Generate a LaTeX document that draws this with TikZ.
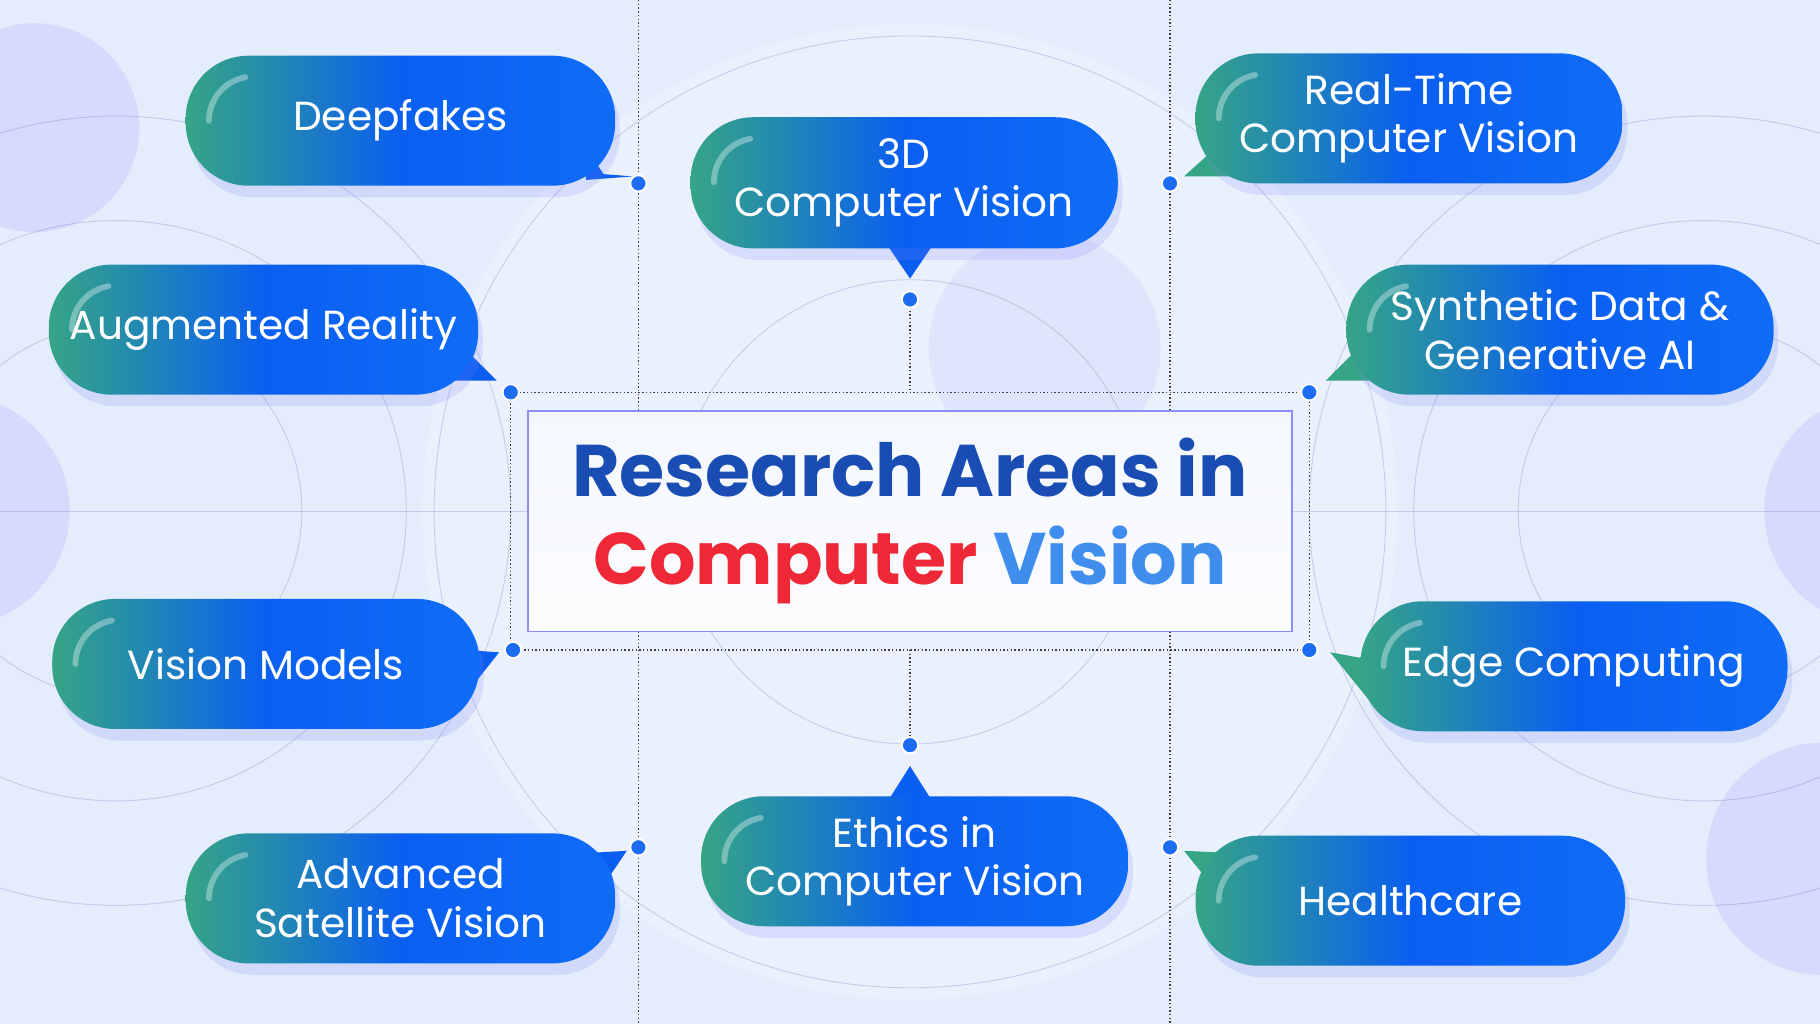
\documentclass[tikz,border=0pt]{standalone}
\usepackage{fontspec}
\setmainfont{Poppins}
\usetikzlibrary{calc}
\definecolor{bg}{HTML}{E4EDFB}
\definecolor{tealc}{HTML}{35A585}
\definecolor{bluec}{HTML}{0A5FF0}
\definecolor{bluer}{HTML}{0F6CF8}
\definecolor{dotc}{HTML}{1C6DF2}
\definecolor{titleb}{HTML}{1A4DB3}
\definecolor{titler}{HTML}{EE2836}
\definecolor{titlel}{HTML}{3F8EEE}
\tikzset{
 bub/.style={rounded corners=27pt, left color=tealc, right color=bluer, middle color=bluec, text=white, align=center, font=\fontsize{17.5}{21}\selectfont, inner sep=0pt},
 hl/.style={white, opacity=.35, line width=2.5pt, line cap=round},
 guide/.style={black!75, densely dotted, line width=.6pt},
 dotm/.style={circle, fill=dotc, draw=white, line width=.8pt, minimum size=7pt, inner sep=0pt},
 ring/.style={draw=blue!40!gray, opacity=.22, line width=.4pt},
}
\newcommand{\mybub}[6]{%
 \fill[blue!50, opacity=.18, rounded corners=27pt] ({#2+4},{#3+8}) rectangle ({#4+4},{#5+10});
 \node[bub, minimum width={(#4-#2)*0.5pt}, minimum height={(#5-#3)*0.5pt}] (#1) at ({(#2+#4)/2},{(#3+#5)/2}) {#6};
 \draw[hl] ({#2+20},{#3+56}) arc[start angle=180, end angle=100, radius=19pt];
}
\begin{document}
\begin{tikzpicture}[x=0.5pt,y=-0.5pt]
\fill[bg] (0,0) rectangle (1568,882);
\useasboundingbox (0,0) rectangle (1568,882);
\begin{scope}
\clip (0,0) rectangle (1568,882);
\fill[white,opacity=.25] (784,441) circle[radius=210pt];
\fill[blue!30,opacity=.3] (30,110) circle[radius=45pt];
\fill[blue!30,opacity=.3] (-40,440) circle[radius=50pt];
\fill[blue!30,opacity=.3] (1620,440) circle[radius=50pt];
\fill[blue!30,opacity=.3] (1570,740) circle[radius=50pt];
\fill[blue!20,opacity=.3] (900,300) circle[radius=50pt];
\foreach \r in {80,125,170} \draw[ring] (100,440) circle[radius=\r pt];
\foreach \r in {80,125,170} \draw[ring] (1468,440) circle[radius=\r pt];
\draw[ring] (784,441) circle[radius=100pt];
\draw[ring] (784,441) circle[radius=205pt];
\draw[ring] (0,441) -- (1568,441);
\end{scope}
% guides
\draw[guide] (550,0) -- (550,882);
\draw[guide] (1008,0) -- (1008,882);
\draw[guide] (440,338) rectangle (1128,560);
\draw[guide] (784,258) -- (784,338);
\draw[guide] (784,560) -- (784,642);
% center
\node[draw=blue!45, line width=.6pt, top color=white!60!bg, bottom color=white!85!bg, minimum width=329pt, minimum height=95pt, inner sep=0pt, align=center, font=\fontsize{31.5}{38}\selectfont\bfseries] (title) at (784,449)
 {\textcolor{titleb}{Research Areas in}\\\textcolor{titler}{Computer} \textcolor{titlel}{Vision}};
% tails
\fill[bluec] (500,120) -- (520,150) -- (545,152) -- (505,155) -- cycle;
\fill[bluec] (765,212) -- (784,240) -- (803,212) -- cycle;
\fill[tealc] (1050,125) -- (1020,152) -- (1060,152) -- cycle;
\fill[bluec] (400,300) -- (428,328) -- (385,328) -- cycle;
\fill[tealc] (1180,290) -- (1142,328) -- (1195,328) -- cycle;
\fill[bluec] (400,560) -- (430,562) -- (400,600) -- cycle;
\fill[tealc] (1190,570) -- (1146,562) -- (1185,610) -- cycle;
\fill[bluec] (505,735) -- (540,733) -- (515,770) -- cycle;
\fill[bluec] (765,690) -- (784,660) -- (803,690) -- cycle;
\fill[tealc] (1050,770) -- (1020,733) -- (1065,735) -- cycle;
% bubbles
\mybub{b1}{160}{48}{530}{160}{Deepfakes}
\mybub{b2}{595}{101}{963}{214}{3D\\Computer Vision}
\mybub{b3}{1030}{46}{1398}{158}{Real-Time\\Computer Vision}
\mybub{b4}{42}{228}{412}{340}{Augmented Reality}
\mybub{b5}{1160}{228}{1528}{340}{Synthetic Data \&\\Generative AI}
\mybub{b6}{45}{516}{413}{628}{Vision Models}
\mybub{b7}{1172}{518}{1540}{630}{Edge Computing}
\mybub{b8}{160}{718}{530}{830}{Advanced\\Satellite Vision}
\mybub{b9}{604}{686}{972}{798}{Ethics in\\Computer Vision}
\mybub{b10}{1030}{720}{1400}{832}{Healthcare}
% dots
\node[dotm] (d1) at (550,158) {};
\node[dotm] (d2) at (784,258) {};
\node[dotm] (d3) at (1008,158) {};
\node[dotm] (d4) at (440,338) {};
\node[dotm] (d5) at (1128,338) {};
\node[dotm] (d6) at (442,560) {};
\node[dotm] (d7) at (1128,560) {};
\node[dotm] (d8) at (550,730) {};
\node[dotm] (d9) at (784,642) {};
\node[dotm] (d10) at (1008,730) {};
\end{tikzpicture}
\end{document}
